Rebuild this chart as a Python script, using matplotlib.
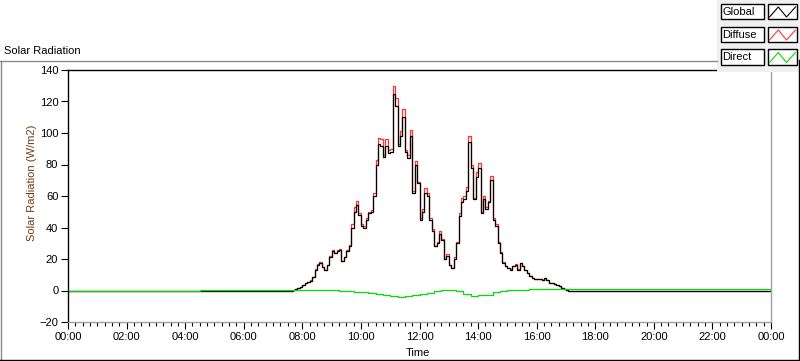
import numpy as np
import matplotlib
matplotlib.use("Agg")
import matplotlib.pyplot as plt
from matplotlib.lines import Line2D
from matplotlib.patches import Rectangle
from matplotlib.ticker import MultipleLocator, FuncFormatter

plt.rcParams['font.family'] = ['Liberation Sans', 'DejaVu Sans']

# ---------------- data (hours of day, W/m2) ----------------
day_start = 7.5          # first daytime sample (h)
step_h = 5 / 60          # 5-minute samples
night_value = -0.3

global_day = [
    0, 0, 0.5, 1, 1.5, 2.5,
    3.5, 4.7, 5.5, 6.3, 8.5, 13, 16.5, 17.4, 15, 13, 16, 21,
    24.8, 23.5, 25, 26, 18.5, 21, 24.8, 28, 40, 50, 54, 48,
    41, 40, 45, 49, 50, 60, 80, 93, 92, 85, 92, 87,
    88, 125, 117, 92, 98, 110, 88, 84, 98, 62, 80, 68,
    45, 50, 62, 60, 45, 38, 28, 30, 36, 32, 20, 22,
    16, 14, 20, 30, 47, 56, 58, 63, 94, 78, 58, 72,
    78, 49, 58, 52, 56, 70, 45, 41, 30, 24, 17.6, 15.4,
    14, 13.2, 15.4, 16.4, 13.2, 17.6, 15.4, 13, 11, 9, 8, 7.5,
    7.2, 7, 6.8, 7.8, 6.8, 5, 4.6, 4, 3.6, 2.8, 1.5, 0.8,
    0.3, 0, -0.2, -0.2,
]

diffuse_day = [
    0, 0, 0.5, 1, 1.5, 2.5,
    3.5, 4.7, 5.5, 6.5, 8.5, 13.5, 17, 18, 15, 13, 16.5, 22,
    25.5, 24, 25.5, 26.5, 18.5, 21.5, 25.5, 29, 42, 53, 57, 49,
    42, 41, 46, 50, 51, 62, 83, 97, 96, 86, 96, 89,
    90, 130, 122, 93, 101, 115, 89, 86, 102, 63, 82, 69,
    46, 52, 65, 62, 46, 39, 28, 31, 38, 33, 20, 23,
    16, 14, 21, 31, 49, 59, 60, 66, 98, 80, 59, 75,
    81, 50, 60, 53, 57, 73, 46, 42, 31, 24.5, 18, 15.5,
    14, 13.5, 15.6, 16.6, 13.4, 17.6, 15.4, 13, 11, 9, 8, 7.5,
    7.2, 7, 6.8, 7.8, 6.8, 5, 4.6, 4, 3.6, 2.8, 1.5, 0.8,
    0.1, -0.3, -0.4, -0.4,
]

direct_times = [0, 4.5] + [7.5 + 0.25 * i for i in range(40)] + [24]
direct_values = [
    -0.3, 0.6,
    0.6, 0.6, 0.6, 0.5, 0.6, 0.5, 0.3, -0.3, -0.6, -0.8,
    -1.0, -1.3, -2.2, -3.0, -3.8, -4.2, -3.4, -3.0, -2.4, -1.5,
    -0.3, 0.3, 0.4, -0.5, -2.4, -3.5, -3.0, -2.6, -1.2, 0.0,
    0.2, 0.2, 0.3, 0.8, 0.9, 0.9, 0.9, 0.9, 0.9, 0.8,
    0.6,
]

series_names = ["Global", "Diffuse", "Direct"]
series_colors = ["#000000", "#ff3535", "#00e000"]

x_tick_hours = list(range(0, 25, 2))
y_ticks = list(range(-20, 141, 20))

# ---------------- build full-day series ----------------
day_t = [day_start + step_h * i for i in range(len(global_day))]
t_full = [0.0] + day_t + [24.0]
g_full = [night_value] + global_day + [global_day[-1]]
d_full = [night_value] + diffuse_day + [diffuse_day[-1]]

W, H = 800, 361
fig = plt.figure(figsize=(W / 100, H / 100), dpi=100)
fig.patch.set_facecolor("white")


def fx(px):
    return px / W


def fy(py):
    return 1 - py / H


ax = fig.add_axes([fx(68), fy(322), (771 - 68) / W, (322 - 70) / H])
ax.set_xlim(0, 24)
ax.set_ylim(-20, 140)

ax.plot(t_full, d_full, color=series_colors[1], lw=0.9, drawstyle="steps-post")
ax.plot(t_full, g_full, color=series_colors[0], lw=0.9, drawstyle="steps-post")
ax.plot(direct_times, direct_values, color=series_colors[2], lw=0.9, drawstyle="steps-post")

ax.set_xticks(x_tick_hours)
ax.xaxis.set_major_formatter(FuncFormatter(lambda v, p: "%02d:00" % (int(round(v)) % 24)))
ax.xaxis.set_minor_locator(MultipleLocator(0.25))
ax.set_yticks(y_ticks)
ax.tick_params(axis="both", which="major", direction="out", length=5, width=0.8,
               labelsize=8, pad=2, colors="black")
ax.tick_params(axis="x", which="minor", direction="out", length=3, width=0.8)
ax.tick_params(top=False, right=False)

for s in ["left", "top"]:
    ax.spines[s].set_color("black")
    ax.spines[s].set_linewidth(1.0)
for s in ["right", "bottom"]:
    ax.spines[s].set_color("#a0a0a0")
    ax.spines[s].set_linewidth(1.0)

fig.text(fx(32), fy(183), "Solar Radiation (W/m2)", rotation=90, ha="center", va="center",
         fontsize=8, color="#6e3b14")
fig.text(fx(418), fy(353), "Time", ha="center", va="center", fontsize=8, color="black")
fig.text(fx(4), fy(51), "Solar Radiation", ha="left", va="center", fontsize=8, color="black")

# outer frame
def fline(xs, ys, color, lw=1.0):
    fig.add_artist(Line2D([fx(x) for x in xs], [fy(y) for y in ys], color=color,
                          lw=lw, transform=fig.transFigure))

fline([0, 717], [61, 61], "#8a8a8a")
fline([1, 1], [61, 361], "#8a8a8a")
fline([0, 800], [360, 360], "black")
fline([799, 799], [60, 361], "black")

# legend panel
fig.add_artist(Rectangle((fx(717), fy(72)), (800 - 717) / W, 72 / H,
                         facecolor="#f0f0f0", edgecolor="none", transform=fig.transFigure))
rows = [(4, 19), (27, 42), (49.5, 64.5)]
for name, col, (y0, y1) in zip(series_names, series_colors, rows):
    fig.add_artist(Rectangle((fx(720.5), fy(y1)), (763.5 - 720.5) / W, (y1 - y0) / H,
                             facecolor="white", edgecolor="black", lw=1.0,
                             transform=fig.transFigure))
    fig.text(fx(722.5), fy((y0 + y1) / 2 + 0.5), name, ha="left", va="center",
             fontsize=8, color="black")
    fig.add_artist(Rectangle((fx(768), fy(y1)), (797 - 768) / W, (y1 - y0) / H,
                             facecolor="white", edgecolor="black", lw=1.0,
                             transform=fig.transFigure))
    zx = [769.5, 778.3, 786.5, 795.5]
    zy = [y1 - 2, y0 + 3, y1 - 2, y0 + 3]
    fline(zx, zy, col, lw=0.8)

fig.savefig("out.png", dpi=100, facecolor="white")
